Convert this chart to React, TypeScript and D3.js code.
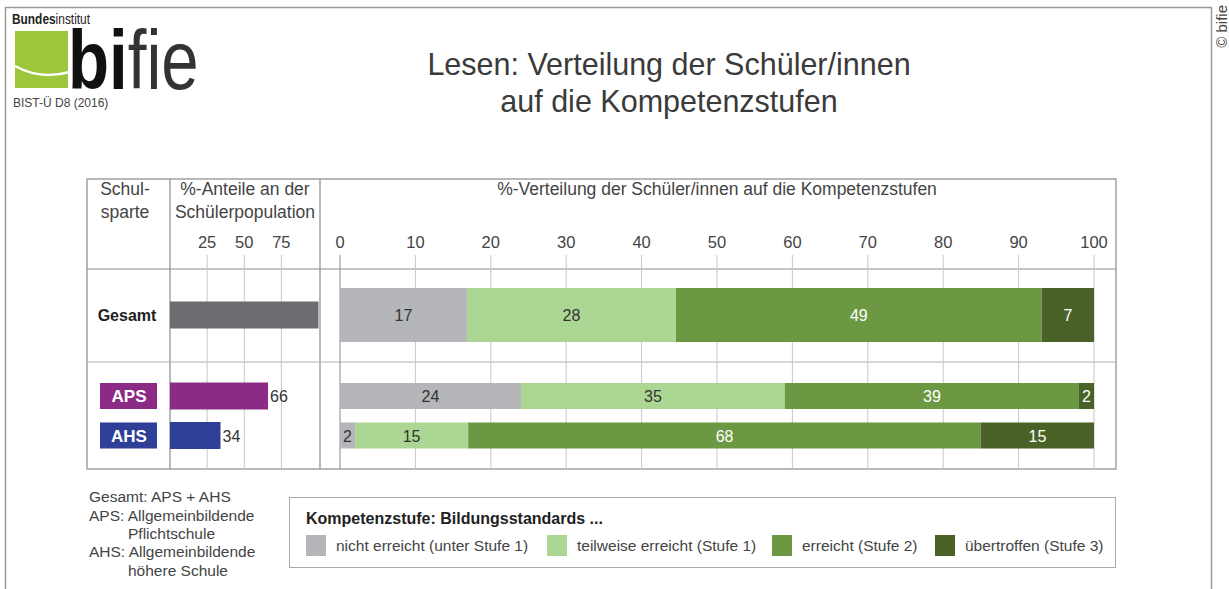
import React from "react";
import { scaleLinear, scaleOrdinal, stack, stackOffsetExpand } from "d3";

// data
const rows = ["Gesamt", "APS", "AHS"];
const population = [100, 66, 34];
const populationLabels = ["", "66", "34"];
const levels = ["nicht", "teilweise", "erreicht", "uebertroffen"];
const levelNames = [
  "nicht erreicht (unter Stufe 1)",
  "teilweise erreicht (Stufe 1)",
  "erreicht (Stufe 2)",
  "übertroffen (Stufe 3)",
];
const nicht = [17, 24, 2];
const teilweise = [28, 35, 15];
const erreicht = [49, 39, 68];
const uebertroffen = [7, 2, 15];
const distTicks = [0, 10, 20, 30, 40, 50, 60, 70, 80, 90, 100];
const popTicks = [25, 50, 75];

const levelColors = ["#b4b6b9", "#acd694", "#6d9843", "#4a6127"];
const levelText = ["#333", "#333", "#fff", "#fff"];
const rowColors = ["#6c6d70", "#8c2b86", "#2d3f96"];

const FONT = "'Liberation Sans', Arial, sans-serif";

const App = () => {
  const width = 1229;
  const height = 589;

  const table = rows.map((r, i) => ({
    row: r,
    nicht: nicht[i],
    teilweise: teilweise[i],
    erreicht: erreicht[i],
    uebertroffen: uebertroffen[i],
  }));
  const series = stack<any>().keys(levels).offset(stackOffsetExpand)(table);

  const xPop = scaleLinear().domain([0, 100]).range([170, 318.5]);
  const xDist = scaleLinear().domain([0, 1]).range([340, 1094]);
  const yRow = scaleOrdinal<string, number>().domain(rows).range([315, 396, 435.5]);
  const distH = (r: string) => (r === "Gesamt" ? 54 : 26);
  const popH = 27;

  const tblTop = 179, tblBottom = 469, tblLeft = 87, tblRight = 1116;
  const gridTop = 255;

  return (
    <svg width={width} height={height} style={{ position: "absolute", left: 0, top: 0 }} fontFamily={FONT}>
      <rect x={0} y={0} width={width} height={height} fill="#fff" />
      {/* outer frame */}
      <path d={`M5.5,${height} V7.5 H1211.5 V${height}`} fill="none" stroke="#9a9a9a" strokeWidth={1.5} />
      <text transform="translate(1227,5) rotate(-90)" textAnchor="end" fontSize={15} fill="#444">© bifie</text>

      {/* logo */}
      <text transform="translate(12,24) scale(0.85,1)" fontSize={14} fill="#222">
        <tspan fontWeight="bold">Bundes</tspan>
        <tspan>institut</tspan>
      </text>
      <rect x={15} y={31} width={53} height={57} fill="#9cc63b" />
      <path d="M15,66 Q40,80 70,72" fill="none" stroke="#fff" strokeWidth={2.5} />
      <text transform="translate(68,89) scale(0.8,1)" fontSize={84} fill="#222">
        <tspan fontWeight="bold" fill="#111">bi</tspan>
        <tspan fill="#333">fie</tspan>
      </text>
      <text x={13} y={107} fontSize={12} fill="#444">BIST-Ü D8 (2016)</text>

      {/* title */}
      <text x={669} y={75} textAnchor="middle" fontSize={30.5} fill="#3a3a3a">Lesen: Verteilung der Schüler/innen</text>
      <text x={669} y={112} textAnchor="middle" fontSize={30.5} fill="#3a3a3a">auf die Kompetenzstufen</text>

      {/* table frame */}
      <rect x={tblLeft} y={tblTop} width={tblRight - tblLeft} height={tblBottom - tblTop} fill="none" stroke="#8a8a8a" strokeWidth={1.2} />
      <line x1={170} x2={170} y1={tblTop} y2={tblBottom} stroke="#8a8a8a" strokeWidth={1.2} />
      <line x1={320} x2={320} y1={tblTop} y2={tblBottom} stroke="#8a8a8a" strokeWidth={1.2} />
      <line x1={tblLeft} x2={tblRight} y1={269} y2={269} stroke="#8a8a8a" strokeWidth={1.2} />
      <line x1={tblLeft} x2={tblRight} y1={362} y2={362} stroke="#b0b0b0" strokeWidth={1} />

      {/* headers */}
      <g fontSize={17.5} fill="#444" textAnchor="middle">
        <text x={125} y={195}>Schul-</text>
        <text x={125} y={218}>sparte</text>
        <text x={245} y={195}>%-Anteile an der</text>
        <text x={245} y={218}>Schülerpopulation</text>
        <text x={717} y={195}>%-Verteilung der Schüler/innen auf die Kompetenzstufen</text>
      </g>

      {/* population grid */}
      {popTicks.map((t) => (
        <g key={t}>
          <line x1={xPop(t)} x2={xPop(t)} y1={gridTop} y2={tblBottom} stroke="#c8c8c8" />
          <text x={xPop(t)} y={248} textAnchor="middle" fontSize={16.5} fill="#444">{t}</text>
        </g>
      ))}

      {/* distribution grid */}
      {distTicks.map((t) => (
        <g key={t}>
          <line x1={xDist(t / 100)} x2={xDist(t / 100)} y1={gridTop} y2={tblBottom} stroke={t === 0 ? "#888" : "#c8c8c8"} />
          <text x={xDist(t / 100)} y={248} textAnchor="middle" fontSize={16.5} fill="#444">{t}</text>
        </g>
      ))}

      {/* row labels */}
      <text x={127} y={yRow("Gesamt") + 6} textAnchor="middle" fontSize={16} fontWeight="bold" fill="#222">Gesamt</text>
      {rows.slice(1).map((r, i) => (
        <g key={r}>
          <rect x={100} y={yRow(r) - 13} width={57} height={26} fill={rowColors[i + 1]} />
          <text x={129} y={yRow(r) + 6} textAnchor="middle" fontSize={17} fontWeight="bold" fill="#fff">{r}</text>
        </g>
      ))}

      {/* population bars */}
      {rows.map((r, i) => (
        <g key={r}>
          <rect x={xPop(0)} y={yRow(r) - popH / 2} width={xPop(population[i]) - xPop(0)} height={popH} fill={rowColors[i]} />
          {populationLabels[i] && (
            <text x={xPop(population[i]) + 2} y={yRow(r) + 6} fontSize={16} fill="#333">{populationLabels[i]}</text>
          )}
        </g>
      ))}

      {/* distribution bars */}
      {series.map((s, li) => (
        <g key={s.key}>
          {s.map((d, ri) => {
            const r = rows[ri];
            const x0 = xDist(d[0]);
            const x1 = xDist(d[1]);
            const h = distH(r);
            return (
              <g key={r}>
                <rect x={x0} y={yRow(r) - h / 2} width={x1 - x0} height={h} fill={levelColors[li]} />
                <text x={(x0 + x1) / 2} y={yRow(r) + 6} textAnchor="middle" fontSize={16} fill={levelText[li]}>
                  {(d.data as any)[s.key]}
                </text>
              </g>
            );
          })}
        </g>
      ))}

      {/* footnote */}
      <g fontSize={15.5} fill="#444">
        <text x={89} y={502}>Gesamt: APS + AHS</text>
        <text x={89} y={521}>APS: Allgemeinbildende</text>
        <text x={128} y={539}>Pflichtschule</text>
        <text x={89} y={557}>AHS: Allgemeinbildende</text>
        <text x={128} y={576}>höhere Schule</text>
      </g>

      {/* legend */}
      <rect x={289.5} y={497.5} width={826} height={70} fill="#fff" stroke="#aaa" />
      <text x={306} y={524} fontSize={16} fontWeight="bold" fill="#222">Kompetenzstufe: Bildungsstandards ...</text>
      {levelNames.map((n, i) => {
        const lx = [306, 547, 772, 935][i];
        return (
          <g key={n}>
            <rect x={lx} y={535} width={20} height={21} fill={levelColors[i]} />
            <text x={lx + 30} y={551} fontSize={15.5} fill="#444">{n}</text>
          </g>
        );
      })}
    </svg>
  );
};

export default App;
